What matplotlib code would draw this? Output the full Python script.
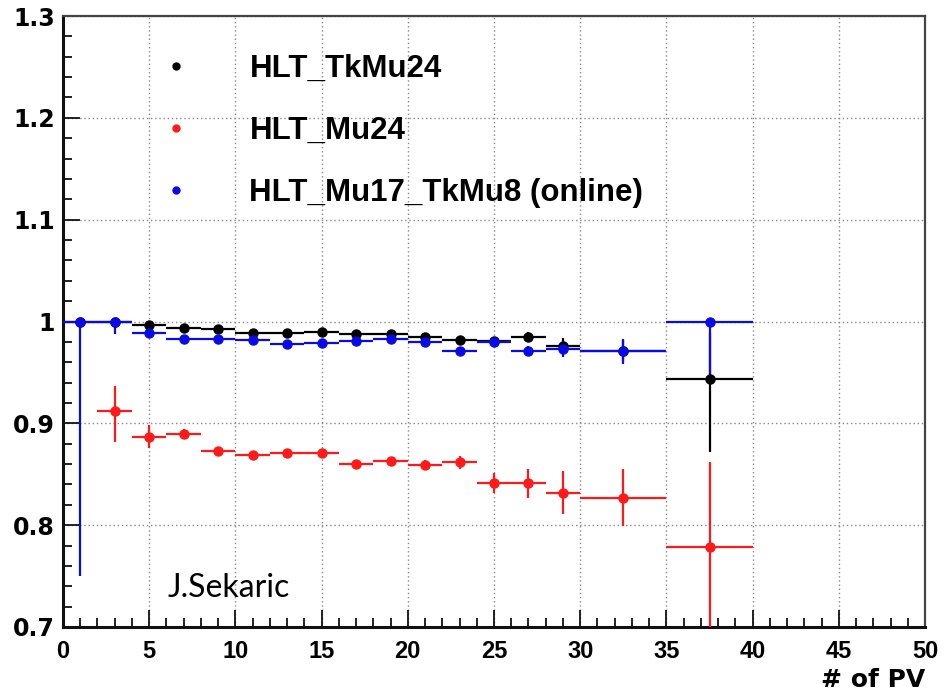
import matplotlib
matplotlib.use("Agg")
import matplotlib.pyplot as plt
from matplotlib.lines import Line2D
from matplotlib.ticker import MultipleLocator, FixedLocator

# ---- data ----
labels = ["HLT_TkMu24", "HLT_Mu24", "HLT_Mu17_TkMu8 (online)"]

tk_x = [1, 3, 5, 7, 9, 11, 13, 15, 17, 19, 21, 23, 25, 27, 29, 32.5, 37.5]
tk_xerr = [1, 1, 1, 1, 1, 1, 1, 1, 1, 1, 1, 1, 1, 1, 1, 2.5, 2.5]
tk_y = [1.0, 1.0, 0.9965, 0.994, 0.9925, 0.989, 0.9886, 0.9895, 0.988, 0.988,
        0.985, 0.982, 0.981, 0.985, 0.9756, 0.9715, 0.944]
tk_elo = [0.0, 0.0, 0.002, 0.002, 0.002, 0.002, 0.002, 0.002, 0.002, 0.002,
          0.003, 0.003, 0.004, 0.005, 0.008, 0.010, 0.072]
tk_ehi = [0.0, 0.0, 0.002, 0.002, 0.002, 0.002, 0.002, 0.002, 0.002, 0.002,
          0.003, 0.003, 0.004, 0.005, 0.008, 0.010, 0.045]

mu_x = [3, 5, 7, 9, 11, 13, 15, 17, 19, 21, 23, 25, 27, 29, 32.5, 37.5]
mu_xerr = [1, 1, 1, 1, 1, 1, 1, 1, 1, 1, 1, 1, 1, 1, 2.5, 2.5]
mu_y = [0.912, 0.887, 0.890, 0.873, 0.869, 0.871, 0.871, 0.860, 0.8626, 0.8587,
        0.8616, 0.8413, 0.841, 0.832, 0.827, 0.7785]
mu_elo = [0.030, 0.011, 0.004, 0.003, 0.003, 0.003, 0.004, 0.004, 0.004, 0.005,
          0.006, 0.010, 0.014, 0.021, 0.028, 0.10]
mu_ehi = [0.025, 0.011, 0.004, 0.003, 0.003, 0.003, 0.004, 0.004, 0.004, 0.005,
          0.006, 0.010, 0.014, 0.021, 0.028, 0.084]

dm_x = [1, 3, 5, 7, 9, 11, 13, 15, 17, 19, 21, 23, 25, 27, 29, 32.5, 37.5]
dm_xerr = [1, 1, 1, 1, 1, 1, 1, 1, 1, 1, 1, 1, 1, 1, 1, 2.5, 2.5]
dm_y = [1.0, 1.0, 0.989, 0.983, 0.983, 0.982, 0.978, 0.979, 0.981, 0.983,
        0.9795, 0.9714, 0.9795, 0.971, 0.973, 0.9707, 1.0]
dm_elo = [0.25, 0.012, 0.003, 0.002, 0.002, 0.002, 0.002, 0.002, 0.002, 0.002,
          0.003, 0.003, 0.004, 0.005, 0.008, 0.012, 0.057]
dm_ehi = [0.0, 0.0, 0.003, 0.002, 0.002, 0.002, 0.002, 0.002, 0.002, 0.002,
          0.003, 0.003, 0.004, 0.005, 0.008, 0.012, 0.0]

x_ticks = [0, 5, 10, 15, 20, 25, 30, 35, 40, 45, 50]
y_ticks = [0.7, 0.8, 0.9, 1.0, 1.1, 1.2, 1.3]
y_ticklabels = ["0.7", "0.8", "0.9", "1", "1.1", "1.2", "1.3"]

# ---- figure ----
fig = plt.figure(figsize=(9.44, 6.92), dpi=100)
ax = fig.add_axes([63 / 944, 1 - 627 / 692, 862 / 944, 611 / 692])

red = "#ff1a1a"
blue = "#0a0ae6"
black = "#000000"

common = dict(fmt="o", markersize=6.5, elinewidth=1.6, capsize=0, zorder=3)
ax.errorbar(mu_x, mu_y, xerr=mu_xerr, yerr=[mu_elo, mu_ehi], color=red,
            ecolor=red, **common)
ax.errorbar(tk_x, tk_y, xerr=tk_xerr, yerr=[tk_elo, tk_ehi], color=black,
            ecolor=black, **common)
ax.errorbar(dm_x, dm_y, xerr=dm_xerr, yerr=[dm_elo, dm_ehi], color=blue,
            ecolor=blue, **common)

ax.set_xlim(0, 50)
ax.set_ylim(0.7, 1.3)

ax.xaxis.set_major_locator(FixedLocator(x_ticks))
ax.xaxis.set_minor_locator(MultipleLocator(1))
ax.yaxis.set_major_locator(FixedLocator(y_ticks))
ax.yaxis.set_minor_locator(MultipleLocator(0.02))
ax.set_xticklabels([str(v) for v in x_ticks], fontfamily="Liberation Sans",
                   fontweight="bold", fontsize=17)
ax.set_yticklabels(y_ticklabels, fontfamily="DejaVu Sans",
                   fontweight="bold", fontsize=17)

ax.tick_params(axis="both", which="major", direction="in", length=12,
               width=1.3, color="#111111")
ax.tick_params(axis="both", which="minor", direction="in", length=6.5,
               width=1.3, color="#111111")
ax.tick_params(axis="x", which="major", pad=9)
ax.tick_params(axis="y", which="major", pad=6)

ax.grid(True, which="major", color="#888888", linestyle=(0, (1, 2)),
        linewidth=1.0, zorder=0)
ax.set_axisbelow(True)

for s in ["left", "bottom"]:
    ax.spines[s].set_linewidth(2.2)
    ax.spines[s].set_color("#111111")
for s in ["top", "right"]:
    ax.spines[s].set_linewidth(1.6)
    ax.spines[s].set_color("#444444")

ax.set_xlabel("# of PV", fontfamily="DejaVu Sans", fontweight="bold",
              fontsize=18, loc="right", labelpad=4)

# legend
handles = [Line2D([], [], linestyle="none", marker="o", markersize=5,
                  color=c) for c in (black, red, blue)]
leg = ax.legend(handles, labels, loc="upper left",
                bbox_to_anchor=(0.113, 0.938), frameon=False,
                prop=dict(family="Liberation Sans", weight="bold", size=22.5),
                handlelength=1.0, handletextpad=1.85, labelspacing=1.03,
                borderpad=0, borderaxespad=0)

fig.text(168 / 944, 1 - 597 / 692, "J.Sekaric", fontfamily="Lato",
         fontsize=23, color="black", va="baseline", ha="left")

fig.savefig("out.png", dpi=100)
